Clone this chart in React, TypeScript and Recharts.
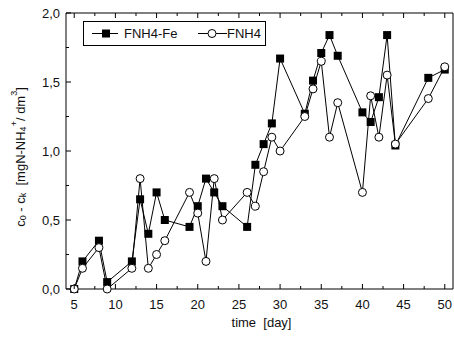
import React from 'react';
import { LineChart, Line, XAxis, YAxis, Legend } from 'recharts';

const days = [5, 6, 8, 9, 12, 13, 14, 15, 16, 19, 20, 21, 22, 23, 26, 27, 28, 29, 30, 33, 34, 35, 36, 37, 40, 41, 42, 43, 44, 48, 50];
const fnh4Fe = [0, 0.2, 0.35, 0.05, 0.2, 0.65, 0.4, 0.7, 0.5, 0.45, 0.6, 0.8, 0.7, 0.6, 0.45, 0.9, 1.05, 1.2, 1.67, 1.27, 1.51, 1.71, 1.84, 1.69, 1.28, 1.21, 1.39, 1.84, 1.04, 1.53, 1.59];
const fnh4 = [0, 0.15, 0.3, 0, 0.15, 0.8, 0.15, 0.25, 0.35, 0.7, 0.55, 0.2, 0.8, 0.5, 0.7, 0.6, 0.85, 1.1, 1.0, 1.25, 1.45, 1.65, 1.1, 1.35, 0.7, 1.4, 1.1, 1.55, 1.05, 1.38, 1.61];

const xTicks = [5, 7.5, 10, 12.5, 15, 17.5, 20, 22.5, 25, 27.5, 30, 32.5, 35, 37.5, 40, 42.5, 45, 47.5, 50];
const yTicks = [0, 0.25, 0.5, 0.75, 1, 1.25, 1.5, 1.75, 2];

const data = days.map((d, i) => ({ day: d, fe: fnh4Fe[i], nh4: fnh4[i] }));

const FONT = '"Liberation Sans", Arial, Helvetica, sans-serif';
const INK = '#111';

const isMajorX = (v: number) => v % 5 === 0;
const isMajorY = (v: number) => Math.abs(v * 2 - Math.round(v * 2)) < 1e-9;
const fmtY = (v: number) => v.toFixed(1).replace('.', ',');

const BottomTick = ({ x, y, payload }: any) => {
  const major = isMajorX(payload.value);
  return (
    <g>
      <line x1={x} x2={x} y1={y} y2={y - (major ? 5 : 3)} stroke="#000" />
      {major && (
        <text x={x} y={y + 20} textAnchor="middle" fontSize={13} fontFamily={FONT} fill={INK}>
          {payload.value}
        </text>
      )}
    </g>
  );
};

const TopTick = ({ x, y, payload }: any) => (
  <line x1={x} x2={x} y1={y} y2={y + (isMajorX(payload.value) ? 5 : 3)} stroke="#000" />
);

const LeftTick = ({ x, y, payload }: any) => {
  const major = isMajorY(payload.value);
  return (
    <g>
      <line x1={x} x2={x + (major ? 5 : 3)} y1={y} y2={y} stroke="#000" />
      {major && (
        <text x={x - 6} y={y + 4.5} textAnchor="end" fontSize={13} fontFamily={FONT} fill={INK}>
          {fmtY(payload.value)}
        </text>
      )}
    </g>
  );
};

const RightTick = ({ x, y, payload }: any) => (
  <line x1={x} x2={x - (isMajorY(payload.value) ? 5 : 3)} y1={y} y2={y} stroke="#000" />
);

const SquareDot = ({ cx, cy }: any) => {
  if (cx == null || cy == null) return null;
  return <rect x={cx - 4} y={cy - 4} width={8} height={8} fill="#000" />;
};

const YTitle = ({ viewBox }: any) => {
  const cx = viewBox.x + 20;
  const cy = 157;
  return (
    <text
      x={cx}
      y={cy}
      transform={`rotate(-90 ${cx} ${cy})`}
      textAnchor="middle"
      dominantBaseline="central"
      fontSize={13}
      fontFamily={FONT}
      fill={INK}
      style={{ whiteSpace: 'pre' }}
    >
      <tspan>c</tspan>
      <tspan fontSize={9} dy={3}>0</tspan>
      <tspan dy={-3}> - c</tspan>
      <tspan fontSize={9} dy={3}>k</tspan>
      <tspan dy={-3}>{'  [mgN-NH'}</tspan>
      <tspan fontSize={9} dy={3}>4</tspan>
      <tspan fontSize={9} dy={-9}>+</tspan>
      <tspan dy={6}>/ dm</tspan>
      <tspan fontSize={9} dy={-6}>3</tspan>
      <tspan dy={6}>]</tspan>
    </text>
  );
};

const XTitle = ({ viewBox }: any) => (
  <text
    x={viewBox.x + viewBox.width / 2 + 2}
    y={viewBox.y + 38}
    textAnchor="middle"
    fontSize={13}
    fontFamily={FONT}
    fill={INK}
    style={{ whiteSpace: 'pre' }}
  >
    {'time  [day]'}
  </text>
);

const LegendBox = () => (
  <svg width={183} height={25} style={{ display: 'block' }}>
    <rect x={0.5} y={0.5} width={182} height={24} fill="#fff" stroke="#000" />
    <line x1={9} x2={35} y1={12.5} y2={12.5} stroke="#000" />
    <rect x={19} y={8.5} width={8} height={8} fill="#000" />
    <text x={41} y={17} fontSize={13} fontFamily={FONT} fill={INK}>FNH4-Fe</text>
    <line x1={115} x2={144} y1={12.5} y2={12.5} stroke="#000" />
    <circle cx={129} cy={12.5} r={4} fill="#fff" stroke="#000" />
    <text x={144} y={17} fontSize={13} fontFamily={FONT} fill={INK}>FNH4</text>
  </svg>
);

export default function App() {
  return (
    <div style={{ position: 'absolute', left: 0, top: 0, width: 454, height: 337, background: '#fff' }}>
      <LineChart width={454} height={337} data={data} margin={{ top: 13, right: 1, bottom: 0, left: 0 }}>
        <XAxis
          xAxisId="main"
          dataKey="day"
          type="number"
          domain={[4, 51]}
          ticks={xTicks}
          interval={0}
          height={48}
          tickSize={0}
          tickMargin={0}
          tickLine={false}
          tick={<BottomTick />}
          axisLine={{ stroke: '#000' }}
          label={<XTitle />}
        />
        <XAxis
          xAxisId="top"
          orientation="top"
          mirror
          dataKey="day"
          type="number"
          domain={[4, 51]}
          ticks={xTicks}
          interval={0}
          height={20}
          tickSize={0}
          tickMargin={0}
          tickLine={false}
          tick={<TopTick />}
          axisLine={{ stroke: '#000' }}
        />
        <YAxis
          yAxisId="main"
          type="number"
          domain={[0, 2]}
          ticks={yTicks}
          interval={0}
          width={66}
          tickSize={0}
          tickMargin={0}
          tickLine={false}
          tick={<LeftTick />}
          axisLine={{ stroke: '#000' }}
          label={<YTitle />}
        />
        <YAxis
          yAxisId="right"
          orientation="right"
          mirror
          type="number"
          domain={[0, 2]}
          ticks={yTicks}
          interval={0}
          width={20}
          tickSize={0}
          tickMargin={0}
          tickLine={false}
          tick={<RightTick />}
          axisLine={{ stroke: '#000' }}
        />
        <Legend
          layout="horizontal"
          verticalAlign="middle"
          align="center"
          content={() => <LegendBox />}
          wrapperStyle={{ position: 'absolute', top: 21, left: 83, width: 183, height: 25 }}
        />
        <Line
          xAxisId="main"
          yAxisId="main"
          dataKey="fe"
          name="FNH4-Fe"
          stroke="#000"
          strokeWidth={1}
          dot={<SquareDot />}
          isAnimationActive={false}
        />
        <Line
          xAxisId="main"
          yAxisId="main"
          dataKey="nh4"
          name="FNH4"
          stroke="#000"
          strokeWidth={1}
          dot={{ r: 4, fill: '#fff', stroke: '#000', strokeWidth: 1 }}
          isAnimationActive={false}
        />
      </LineChart>
    </div>
  );
}
